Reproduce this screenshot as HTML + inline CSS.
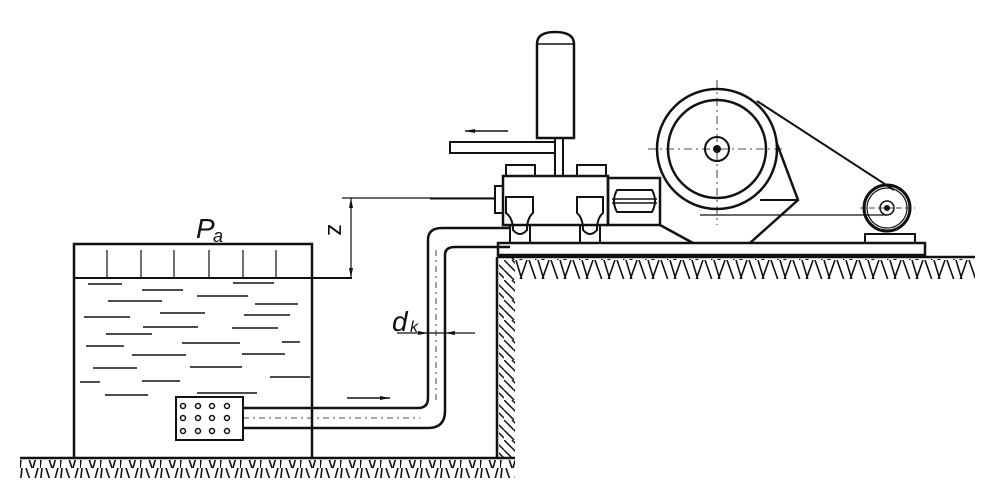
<!DOCTYPE html>
<html><head><meta charset="utf-8"><style>
html,body{margin:0;padding:0;background:#fff;}
svg{display:block;}
text{font-family:"Liberation Sans",sans-serif;fill:#111;}
</style></head><body>
<svg width="1000" height="504" viewBox="0 0 1000 504" xmlns="http://www.w3.org/2000/svg">
<defs>
<pattern id="h1" width="20" height="18" patternUnits="userSpaceOnUse">
<path d="M2 0 L0 18 M6 0 L12 18 M18 0 L13 18" stroke="#111" stroke-width="1.6" fill="none"/>
</pattern>
<pattern id="h2" width="22" height="20" patternUnits="userSpaceOnUse">
<path d="M1 0 L8 20 M10 0 L16 20 M21 0 L14 20" stroke="#111" stroke-width="1.6" fill="none"/>
</pattern>
<pattern id="h3" width="18" height="20" patternUnits="userSpaceOnUse">
<path d="M0 0 L18 18 M0 10 L10 20 M8 0 L18 10" stroke="#111" stroke-width="1.5" fill="none"/>
</pattern>
</defs>
<g stroke="#111" fill="none" stroke-width="2">
<line x1="20" y1="458" x2="515" y2="458" stroke-width="2.5"/>
<rect x="20" y="460" width="495" height="18" fill="url(#h1)" stroke="none"/>
<line x1="497" y1="257" x2="497" y2="458" stroke-width="2.5"/>
<rect x="499" y="258" width="16" height="200" fill="url(#h3)" stroke="none"/>
<line x1="497" y1="257" x2="975" y2="257" stroke-width="2.5"/>
<rect x="515" y="259" width="460" height="20" fill="url(#h2)" stroke="none"/>
<polyline points="74,458 74,244 312,244 312,458" stroke-width="2.5"/>
<line x1="74" y1="278" x2="352" y2="278" stroke-width="2"/>
<g stroke-width="1.2">
<line x1="107" y1="250" x2="107" y2="278"/><line x1="141" y1="250" x2="141" y2="278"/>
<line x1="174" y1="250" x2="174" y2="278"/><line x1="209" y1="250" x2="209" y2="278"/>
<line x1="243" y1="250" x2="243" y2="278"/><line x1="276" y1="250" x2="276" y2="278"/>
</g>
<g stroke-width="1.6">
<line x1="88" y1="284" x2="122" y2="284"/><line x1="142" y1="290" x2="183" y2="290"/>
<line x1="233" y1="283" x2="274" y2="283"/><line x1="108" y1="301" x2="162" y2="301"/>
<line x1="197" y1="296" x2="248" y2="296"/><line x1="255" y1="304" x2="298" y2="304"/>
<line x1="84" y1="317" x2="130" y2="317"/><line x1="160" y1="313" x2="205" y2="313"/>
<line x1="244" y1="315" x2="290" y2="315"/><line x1="143" y1="327" x2="198" y2="327"/>
<line x1="232" y1="328" x2="278" y2="328"/><line x1="106" y1="334" x2="152" y2="334"/>
<line x1="86" y1="346" x2="124" y2="346"/><line x1="182" y1="343" x2="240" y2="343"/>
<line x1="282" y1="342" x2="300" y2="342"/><line x1="132" y1="355" x2="186" y2="355"/>
<line x1="242" y1="354" x2="285" y2="354"/><line x1="93" y1="368" x2="137" y2="368"/>
<line x1="190" y1="367" x2="242" y2="367"/><line x1="270" y1="377" x2="310" y2="377"/>
<line x1="80" y1="382" x2="100" y2="382"/><line x1="142" y1="381" x2="180" y2="381"/>
<line x1="105" y1="395" x2="148" y2="395"/><line x1="197" y1="393" x2="257" y2="393"/>
</g>
<rect x="176" y="397" width="67" height="43" stroke-width="2"/>
<g stroke-width="1.5">
<circle cx="183" cy="406" r="2.5"/><circle cx="198" cy="406" r="2.5"/><circle cx="212" cy="406" r="2.5"/><circle cx="227" cy="406" r="2.5"/>
<circle cx="183" cy="418" r="2.5"/><circle cx="198" cy="418" r="2.5"/><circle cx="212" cy="418" r="2.5"/><circle cx="227" cy="418" r="2.5"/>
<circle cx="183" cy="431" r="2.5"/><circle cx="198" cy="431" r="2.5"/><circle cx="212" cy="431" r="2.5"/><circle cx="227" cy="431" r="2.5"/>
</g>
<path d="M243 408 L418 408 Q428 408 428 398 L428 240 Q428 228 442 228 L510 228" stroke-width="2.5"/>
<path d="M243 428 L428 428 Q445 428 445 411 L445 255 Q445 247 455 247 L510 247" stroke-width="2.5"/>
<line x1="347" y1="398" x2="390" y2="398" stroke-width="1.5"/>
<polygon points="380,396 390,398 380,400" fill="#111" stroke="none"/>
<line x1="243" y1="418" x2="420" y2="418" stroke-width="0.8" stroke-dasharray="6,4,2,4"/>
<line x1="436" y1="400" x2="436" y2="250" stroke-width="0.8" stroke-dasharray="6,4,2,4"/>
<line x1="342" y1="198" x2="495" y2="198" stroke-width="1.2"/>
<line x1="351" y1="198" x2="351" y2="278" stroke-width="1.2"/>
<polygon points="349,208 351,198 353,208" fill="#111" stroke="none"/>
<polygon points="349,268 351,278 353,268" fill="#111" stroke="none"/>
<line x1="397" y1="333" x2="475" y2="333" stroke-width="1.2"/>
<polygon points="418,331 428,333 418,335" fill="#111" stroke="none"/>
<polygon points="455,331 445,333 455,335" fill="#111" stroke="none"/>
<rect x="498" y="243" width="427" height="12" stroke-width="2.5"/>
<path d="M537 138 L537 44 Q537 32 555 32 Q574 32 574 44 L574 138 Z" stroke-width="2.5"/>
<line x1="537" y1="44" x2="574" y2="44" stroke-width="1.5"/>
<line x1="555" y1="138" x2="555" y2="176"/><line x1="563" y1="138" x2="563" y2="176"/>
<path d="M555 142 L450 142 L450 153 L555 153" stroke-width="2"/>
<line x1="465" y1="131" x2="508" y2="131" stroke-width="1.5"/>
<polygon points="475,129 465,131 475,133" fill="#111" stroke="none"/>
<rect x="503" y="176" width="105" height="49" stroke-width="2.5"/>
<rect x="506" y="165" width="29" height="11" stroke-width="2"/>
<rect x="577" y="165" width="29" height="11" stroke-width="2"/>
<rect x="495" y="186" width="8" height="27" stroke-width="2"/>
<line x1="430" y1="199" x2="495" y2="199" stroke-width="1"/>
<path d="M506 197 L533 197 L533 213 Q527 218 527 230 Q520 238 513 230 Q513 218 506 213 Z" stroke-width="2"/>
<path d="M577 197 L603 197 L603 213 Q597 218 597 230 Q590 238 583 230 Q583 218 577 213 Z" stroke-width="2"/>
<line x1="510" y1="225" x2="510" y2="243"/><line x1="530" y1="225" x2="530" y2="243"/>
<line x1="580" y1="225" x2="580" y2="243"/><line x1="600" y1="225" x2="600" y2="243"/>
<rect x="608" y="178" width="52" height="47" stroke-width="2.5"/>
<path d="M617 190 L652 190 Q658 201 652 212 L617 212 Q611 201 617 190 Z" stroke-width="2"/>
<line x1="612" y1="199" x2="657" y2="199" stroke-width="1.5"/>
<line x1="612" y1="203" x2="657" y2="203" stroke-width="1.5"/>
<polyline points="660,225 693,243" stroke-width="2.5"/>
<polyline points="770,125 798,200 750,243" stroke-width="2.5"/>
<line x1="760" y1="200" x2="798" y2="200" stroke-width="2"/>
<line x1="700" y1="215" x2="887" y2="215" stroke-width="1.2"/>
<circle cx="717" cy="149" r="60" fill="#fff" stroke-width="2.5"/>
<circle cx="717" cy="149" r="49" stroke-width="2.5"/>
<circle cx="717" cy="149" r="12" stroke-width="2"/>
<circle cx="717" cy="149" r="3" fill="#111"/>
<line x1="648" y1="149" x2="786" y2="149" stroke-width="0.8" stroke-dasharray="8,4,2,4"/>
<line x1="717" y1="80" x2="717" y2="225" stroke-width="0.8" stroke-dasharray="8,4,2,4"/>
<line x1="757" y1="101" x2="894" y2="190" stroke-width="2"/>
<circle cx="887" cy="208" r="23" stroke-width="3"/>
<circle cx="887" cy="208" r="20" stroke-width="1.2"/>
<circle cx="887" cy="208" r="7" stroke-width="1.5"/>
<circle cx="887" cy="208" r="2" fill="#111"/>
<line x1="860" y1="208" x2="915" y2="208" stroke-width="0.8" stroke-dasharray="6,3"/>
<rect x="865" y="234" width="50" height="9" stroke-width="2"/>
</g>
<text x="196" y="238" font-size="28" font-style="italic">P</text>
<text x="213" y="242" font-size="18" font-style="italic">a</text>
<text x="0" y="0" font-size="24" transform="translate(328,224) rotate(90)">z</text>
<text x="392" y="331" font-size="28" font-style="italic">d</text>
<text x="410" y="332" font-size="16" font-style="italic">k</text>
</svg>
</body></html>
